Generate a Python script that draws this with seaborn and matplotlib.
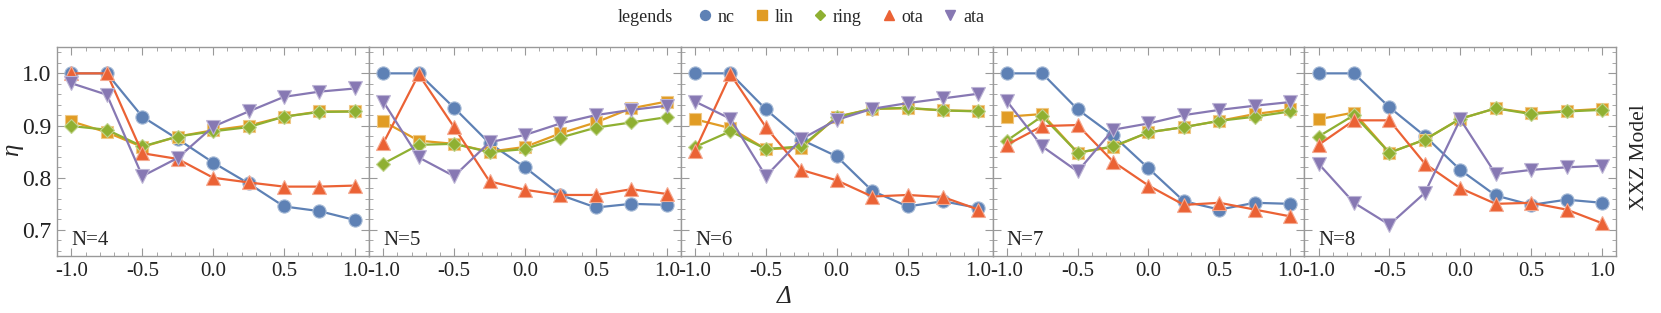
import numpy as np
import pandas as pd
import seaborn as sns
import matplotlib.pyplot as plt
from matplotlib.lines import Line2D
from matplotlib.ticker import MultipleLocator, FixedLocator
from matplotlib.colors import to_rgb

# data
DELTA = [-1.0, -0.75, -0.5, -0.25, 0.0, 0.25, 0.5, 0.75, 1.0]
PANELS = ["N=4", "N=5", "N=6", "N=7", "N=8"]
SERIES = ["nc", "lin", "ring", "ota", "ata"]

nc_vals = [
    [1.0, 1.0, 0.917, 0.874, 0.829, 0.789, 0.745, 0.736, 0.719],
    [1.0, 1.0, 0.934, 0.866, 0.820, 0.767, 0.743, 0.750, 0.748],
    [1.0, 1.0, 0.931, 0.873, 0.841, 0.775, 0.745, 0.755, 0.742],
    [1.0, 1.0, 0.931, 0.881, 0.818, 0.755, 0.739, 0.752, 0.750],
    [1.0, 1.0, 0.935, 0.880, 0.815, 0.766, 0.748, 0.758, 0.752],
]
lin_vals = [
    [0.908, 0.887, 0.859, 0.879, 0.891, 0.900, 0.917, 0.927, 0.927],
    [0.908, 0.871, 0.865, 0.850, 0.859, 0.885, 0.906, 0.933, 0.946],
    [0.912, 0.895, 0.855, 0.857, 0.917, 0.932, 0.933, 0.929, 0.928],
    [0.917, 0.922, 0.848, 0.859, 0.887, 0.897, 0.909, 0.922, 0.931],
    [0.912, 0.925, 0.848, 0.873, 0.913, 0.933, 0.924, 0.928, 0.932],
]
ring_vals = [
    [0.899, 0.892, 0.860, 0.879, 0.889, 0.897, 0.917, 0.926, 0.927],
    [0.827, 0.863, 0.865, 0.849, 0.855, 0.877, 0.896, 0.906, 0.916],
    [0.859, 0.889, 0.855, 0.860, 0.916, 0.932, 0.934, 0.929, 0.927],
    [0.871, 0.918, 0.848, 0.860, 0.887, 0.897, 0.909, 0.917, 0.927],
    [0.879, 0.920, 0.848, 0.873, 0.913, 0.933, 0.922, 0.927, 0.930],
]
ota_vals = [
    [1.0, 1.0, 0.847, 0.836, 0.800, 0.791, 0.783, 0.783, 0.785],
    [0.866, 0.998, 0.897, 0.793, 0.777, 0.767, 0.767, 0.778, 0.769],
    [0.852, 0.998, 0.897, 0.815, 0.795, 0.764, 0.767, 0.763, 0.739],
    [0.863, 0.899, 0.901, 0.831, 0.785, 0.748, 0.752, 0.739, 0.726],
    [0.863, 0.910, 0.910, 0.827, 0.780, 0.750, 0.752, 0.739, 0.713],
]
ata_vals = [
    [0.981, 0.959, 0.803, 0.838, 0.898, 0.927, 0.955, 0.965, 0.971],
    [0.946, 0.839, 0.803, 0.868, 0.882, 0.904, 0.920, 0.930, 0.938],
    [0.946, 0.913, 0.803, 0.874, 0.911, 0.932, 0.943, 0.952, 0.961],
    [0.947, 0.860, 0.812, 0.892, 0.904, 0.920, 0.930, 0.938, 0.945],
    [0.827, 0.752, 0.710, 0.771, 0.912, 0.807, 0.815, 0.820, 0.823],
]

COLORS = {"nc": "#5E81B5", "lin": "#E19C24", "ring": "#8FB032",
          "ota": "#EB6235", "ata": "#8778B3"}
MARKERS = {"nc": "o", "lin": "s", "ring": "D", "ota": "^", "ata": "v"}
MSIZE = {"nc": 9.5, "lin": 9.0, "ring": 7.0, "ota": 9.5, "ata": 9.5}

rows = []
for name, table in zip(SERIES, [nc_vals, lin_vals, ring_vals, ota_vals, ata_vals]):
    for p, vals in zip(PANELS, table):
        for d, v in zip(DELTA, vals):
            rows.append({"panel": p, "series": name, "delta": d, "eta": v})
df = pd.DataFrame(rows)


def lighten(c, f=0.45):
    r, g, b = to_rgb(c)
    return (r + (1 - r) * f, g + (1 - g) * f, b + (1 - b) * f)


sns.set_theme(style="ticks")
plt.rcParams['font.family'] = 'serif'
plt.rcParams['font.serif'] = ['Liberation Serif', 'DejaVu Serif']
plt.rcParams['axes.unicode_minus'] = False

fig, axes = plt.subplots(1, 5, figsize=(16.61, 3.13), dpi=100, sharey=True)
fig.subplots_adjust(left=0.0345, right=0.973, top=0.849, bottom=0.182, wspace=0)

for i, (ax, p) in enumerate(zip(axes, PANELS)):
    sub = df[df["panel"] == p]
    for k, name in enumerate(SERIES):
        s = sub[sub["series"] == name]
        sns.lineplot(data=s, x="delta", y="eta", ax=ax, color=COLORS[name],
                     marker=MARKERS[name], markersize=MSIZE[name],
                     markeredgecolor=lighten(COLORS[name]), markeredgewidth=0.8,
                     linewidth=1.6, zorder=3 + k, legend=False)
    ax.set_xlim(-1.1, 1.1)
    ax.set_ylim(0.65, 1.05)
    ax.xaxis.set_major_locator(FixedLocator([-1.0, -0.5, 0.0, 0.5, 1.0]))
    ax.xaxis.set_minor_locator(MultipleLocator(0.1))
    ax.yaxis.set_major_locator(MultipleLocator(0.1))
    ax.yaxis.set_minor_locator(MultipleLocator(0.02))
    ax.set_xticklabels(["-1.0", "-0.5", "0.0", "0.5", "1.0"])
    ax.tick_params(which="both", direction="in", top=True, right=True,
                   color="#999999", labelcolor="#222222")
    ax.tick_params(axis="x", labelsize=15, pad=4)
    ax.tick_params(axis="y", labelsize=17, pad=4)
    ax.tick_params(which="major", length=6, width=0.8)
    ax.tick_params(which="minor", length=3, width=0.6)
    for sp in ax.spines.values():
        sp.set_color("#999999")
        sp.set_linewidth(1.0)
    ax.set_xlabel("")
    ax.set_ylabel("")
    ax.text(-1.0, 0.671, p, fontsize=15, ha="left", va="baseline")
    if i > 0:
        ax.tick_params(labelleft=False)

axes[0].set_yticks([0.7, 0.8, 0.9, 1.0])
axes[0].set_yticklabels(["0.7", "0.8", "0.9", "1.0"])
fig.text(12 / 1661, 1 - 150 / 313, "η", fontsize=18, fontstyle="italic",
         rotation=90, ha="center", va="center")
fig.text(784 / 1661, 1 - 297 / 313, "Δ", fontsize=18, fontstyle="italic",
         ha="center", va="center")
fig.text(1640 / 1661, 1 - 157 / 313, "XXZ Model", fontsize=15.5,
         rotation=90, ha="center", va="center")

handles = [Line2D([], [], linestyle="none", marker=MARKERS[n], color=COLORS[n],
                  markersize=MSIZE[n] * 0.75) for n in SERIES]
fig.text(618 / 1661, 1 - 17 / 313, "legends", fontsize=13, ha="left", va="center")
fig.legend(handles, SERIES, loc="center", ncol=5, frameon=False,
           bbox_to_anchor=(840 / 1661, 1 - 17 / 313), fontsize=13,
           handletextpad=0.2, columnspacing=1.0, handlelength=1.0)

fig.savefig("out.png", dpi=100)
